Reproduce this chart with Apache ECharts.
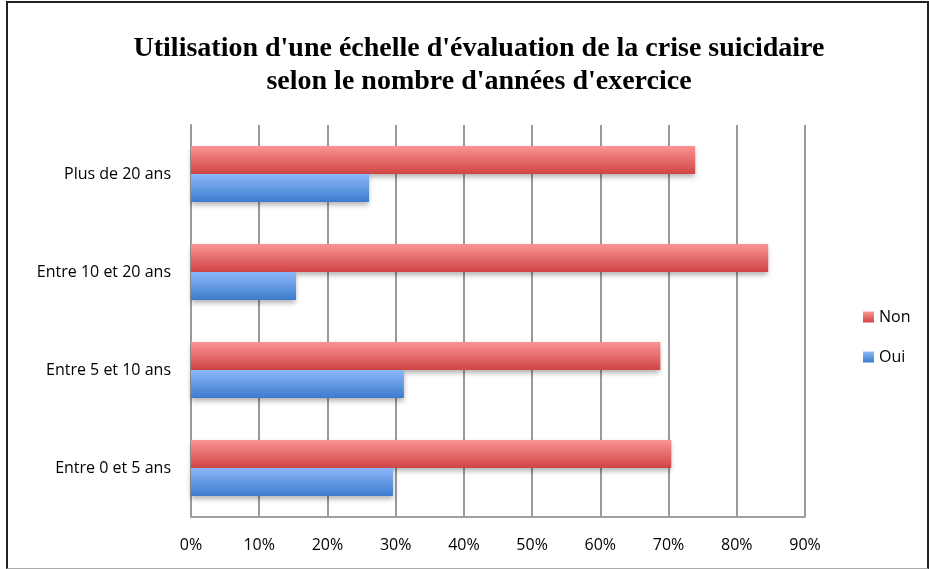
<!DOCTYPE html>
<html>
<head>
<meta charset="utf-8">
<script src="https://cdn.jsdelivr.net/npm/echarts@6/dist/echarts.min.js"></script>
<style>
  html, body { margin: 0; padding: 0; background: #fff; }
  #frame {
    position: absolute; left: 6px; top: 1px; width: 919px; height: 565px;
    border: 2px solid #222; border-bottom: 1px solid #aaa;
  }
  #chart { position: absolute; left: 0; top: 0; width: 929px; height: 569px; }
</style>
</head>
<body>
<div id="frame"></div>
<div id="chart"></div>
<script>
// categories listed bottom to top
var categories = ['Entre 0 et 5 ans', 'Entre 5 et 10 ans', 'Entre 10 et 20 ans', 'Plus de 20 ans']
var nonValues = [70.4, 68.8, 84.6, 73.9]
var ouiValues = [29.6, 31.2, 15.4, 26.1]
var tickValues = [0, 10, 20, 30, 40, 50, 60, 70, 80, 90]

var myChart = echarts.init(document.getElementById('chart'))

function grad(top, bottom) {
  return new echarts.graphic.LinearGradient(0, 0, 0, 1, [
    { offset: 0, color: top },
    { offset: 1, color: bottom }
  ])
}

var option = {
  animation: false,
  title: {
    text: "Utilisation d'une échelle d'évaluation de la crise suicidaire\nselon le nombre d'années d'exercice",
    left: 474,
    textAlign: 'center',
    top: 27,
    textStyle: {
      fontFamily: 'Liberation Serif',
      fontWeight: 'bold',
      fontSize: 28,
      lineHeight: 33,
      color: '#000'
    }
  },
  legend: {
    data: ['Non', 'Oui'],
    orient: 'vertical',
    left: 858,
    top: 304,
    itemGap: 24,
    itemWidth: 11,
    itemHeight: 11,
    icon: 'rect',
    textStyle: { fontFamily: 'Open Sans', fontSize: 16, color: '#000' }
  },
  grid: { left: 191, right: 124, top: 125, bottom: 52 },
  xAxis: {
    type: 'value',
    min: tickValues[0],
    max: tickValues[tickValues.length - 1],
    interval: 10,
    axisLine: { show: true, lineStyle: { color: '#a0a0a0', width: 2 } },
    axisTick: { show: false },
    splitLine: { lineStyle: { color: '#9a9a9a', width: 2 } },
    axisLabel: {
      formatter: '{value}%',
      margin: 20,
      fontFamily: 'Open Sans',
      fontSize: 16,
      color: '#000'
    }
  },
  yAxis: {
    type: 'category',
    data: categories,
    axisLine: { show: true, lineStyle: { color: '#9a9a9a', width: 2 } },
    axisTick: { show: false },
    axisLabel: {
      margin: 20,
      fontFamily: 'Open Sans',
      fontSize: 16,
      color: '#000'
    }
  },
  series: [
    {
      name: 'Non',
      type: 'bar',
      data: nonValues,
      barWidth: 28,
      barGap: '0%',
      itemStyle: {
        color: grad('#fb9494', '#d04444'),
        shadowBlur: 5,
        shadowOffsetY: 3,
        shadowColor: 'rgba(0,0,0,0.3)'
      }
    },
    {
      name: 'Oui',
      type: 'bar',
      data: ouiValues,
      barWidth: 28,
      barGap: '0%',
      itemStyle: {
        color: grad('#8db8fa', '#3c7ccc'),
        shadowBlur: 5,
        shadowOffsetY: 3,
        shadowColor: 'rgba(0,0,0,0.3)'
      }
    }
  ]
}
myChart.setOption(option)
</script>
</body>
</html>
